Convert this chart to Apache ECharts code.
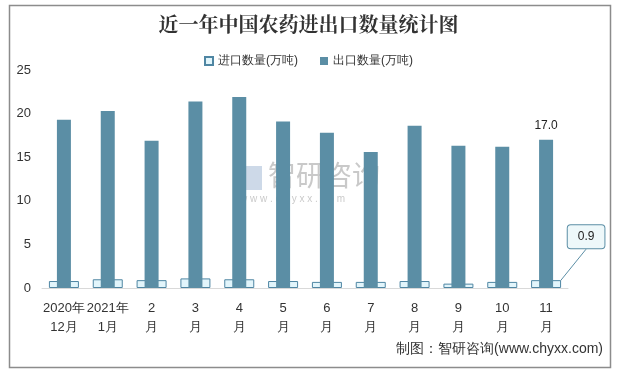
<!DOCTYPE html>
<html><head><meta charset="utf-8">
<script src="https://cdn.jsdelivr.net/npm/echarts@6/dist/echarts.min.js"></script>
<style>html,body{margin:0;padding:0;background:#fff}#c{width:617px;height:369px}</style>
</head><body><div id="c"></div>
<script>
const categories = ['2020年\n12月','2021年\n1月','2\n月','3\n月','4\n月','5\n月','6\n月','7\n月','8\n月','9\n月','10\n月','11\n月'];
const importValues = [0.8, 1.0, 0.9, 1.1, 1.0, 0.8, 0.7, 0.7, 0.8, 0.5, 0.7, 0.9];
const exportValues = [19.3, 20.3, 16.9, 21.4, 21.9, 19.1, 17.8, 15.6, 18.6, 16.3, 16.2, 17.0];
const yTicks = [0, 5, 10, 15, 20, 25];

const chart = echarts.init(document.getElementById('c'));
const last = categories.length - 1;
chart.setOption({
  animation: false,
  title: {
    text: '近一年中国农药进出口数量统计图',
    left: 'center', top: 9,
    textStyle: { fontFamily: 'Noto Serif CJK SC, serif', fontWeight: 'bold', fontSize: 20, color: '#333' }
  },
  legend: {
    top: 50, left: 'center', itemWidth: 8, itemHeight: 8, itemGap: 22,
    textStyle: { fontSize: 12, color: '#333' },
    data: [
      { name: '进口数量(万吨)', icon: 'rect' },
      { name: '出口数量(万吨)', icon: 'rect' }
    ]
  },
  grid: { left: 42, right: 49, top: 70, bottom: 81 },
  xAxis: [
    {
      type: 'category', data: categories,
      axisLine: { lineStyle: { color: '#d9d9d9' } },
      axisTick: { show: false },
      axisLabel: { color: '#333', fontSize: 13, lineHeight: 19, margin: 11, interval: 0 }
    },
    { type: 'category', data: categories, show: false }
  ],
  yAxis: {
    type: 'value', min: 0, max: 25, interval: 5,
    axisLine: { show: false }, axisTick: { show: false },
    splitLine: { show: false },
    axisLabel: { color: '#333', fontSize: 13, margin: 11,
      formatter: v => yTicks.includes(v) ? String(v) : '' }
  },
  series: [
    {
      name: '进口数量(万吨)', type: 'bar', xAxisIndex: 0, barWidth: 30,
      itemStyle: { color: '#e2f5fb', borderColor: '#4f86a3', borderWidth: 1 },
      data: importValues.map((v, i) => i === last ? {
        value: v,
        label: { show: true, position: 'top', formatter: '{c}', fontSize: 12, color: '#222',
          backgroundColor: '#eef8fa', borderColor: '#5b8ea5', borderWidth: 1, borderRadius: 3,
          padding: [6, 10, 5, 10] }
      } : v),
      labelLayout: p => p.dataIndex === last ? { dx: 40, dy: -27 } : {},
      labelLine: { show: true, lineStyle: { color: '#5b8ea5', width: 1 } },
      z: 1
    },
    {
      name: '出口数量(万吨)', type: 'bar', xAxisIndex: 1, barWidth: 14,
      itemStyle: { color: '#5b8ea5' },
      data: exportValues.map((v, i) => i === last ? {
        value: v, label: { show: true, position: 'top', distance: 8, formatter: p => p.value.toFixed(1), fontSize: 12, color: '#222' }
      } : v),
      z: 2
    }
  ],
  graphic: [
    { type: 'rect', left: 7, top: 3, shape: { width: 601, height: 362 }, style: { fill: 'none', stroke: '#8c8c8c', lineWidth: 1.5 }, silent: true },
    { type: 'text', left: 268, top: 161, style: { text: '智研咨询', fontSize: 28, fill: 'rgba(120,120,120,0.4)', fontFamily: 'Noto Sans CJK SC' }, silent: true },
    { type: 'text', left: 240, top: 194, style: { text: 'w w w . c h y x x . c o m', fontSize: 10, fill: 'rgba(120,120,120,0.4)' }, silent: true },
    { type: 'rect', left: 240, top: 166, shape: { width: 22, height: 24 }, style: { fill: 'rgba(90,130,180,0.3)' }, silent: true },
    { type: 'text', right: 14, top: 342, style: { text: '制图：智研咨询(www.chyxx.com)', fontSize: 14, fill: '#333' }, silent: true }
  ]
});
</script></body></html>
